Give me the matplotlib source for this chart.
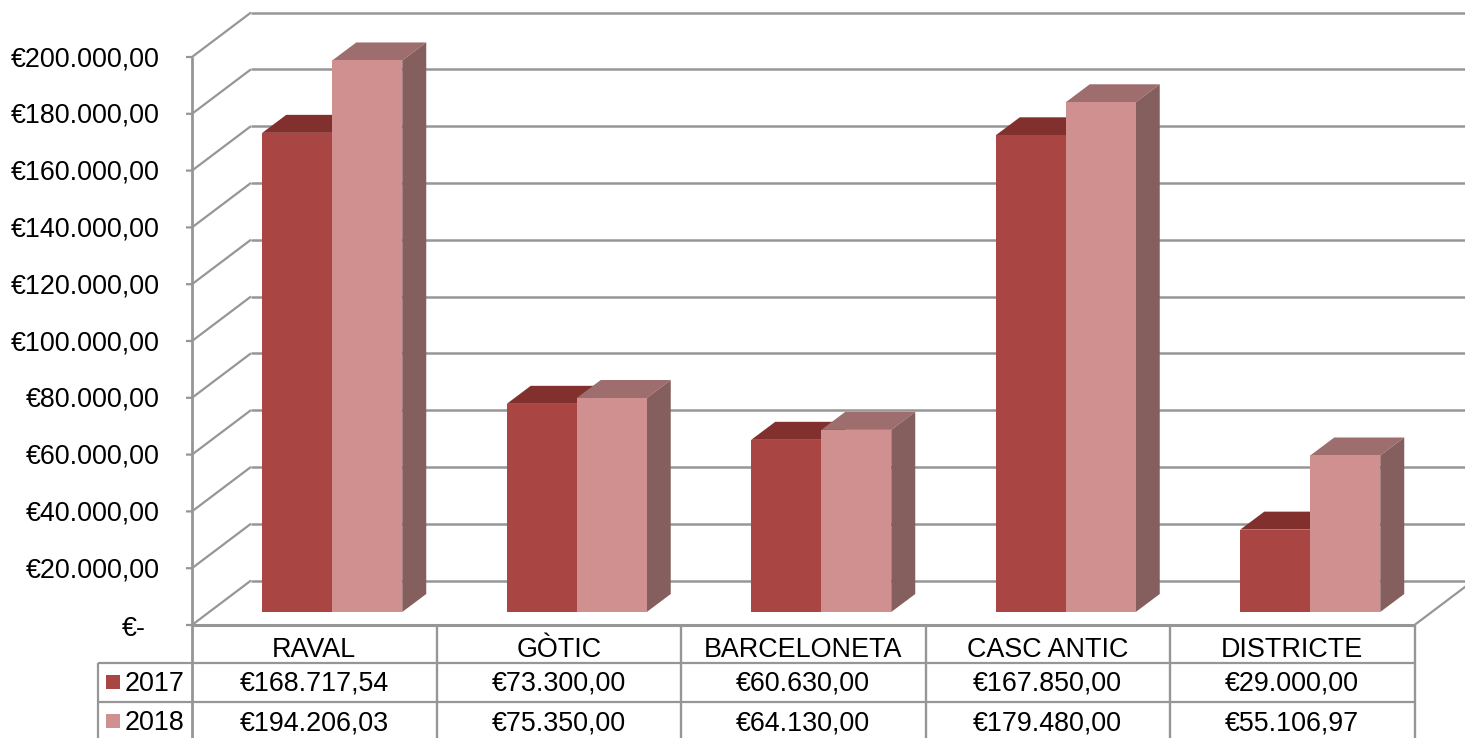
import matplotlib
matplotlib.use("Agg")
import matplotlib.pyplot as plt
from matplotlib.patches import Polygon, Rectangle

plt.rcParams['font.family'] = ['Liberation Sans', 'DejaVu Sans']

categories = ['RAVAL', 'GÒTIC', 'BARCELONETA', 'CASC ANTIC', 'DISTRICTE']
years = ['2017', '2018']
values_2017 = [168717.54, 73300.00, 60630.00, 167850.00, 29000.00]
values_2018 = [194206.03, 75350.00, 64130.00, 179480.00, 55106.97]
yticks = [0, 20000, 40000, 60000, 80000, 100000, 120000, 140000, 160000, 180000, 200000]
ytick_labels = ['€-', '€20.000,00', '€40.000,00', '€60.000,00', '€80.000,00', '€100.000,00',
                '€120.000,00', '€140.000,00', '€160.000,00', '€180.000,00', '€200.000,00']

W, H = 1465, 738
X0, Y0 = 192, 625        # pixel position of the origin
CAT_W = 244.5            # pixels per category
PX_PER_VAL = 56.8 / 20000

GREY = '#969696'
FACE = ['#A94542', '#D09090']
TOP = ['#82302E', '#9E6E6E']
SIDE = ['#6E2A28', '#855E5E']
FS = 19.4
TXT_DOWN = 2             # text sits a little below the line centre

fig = plt.figure(figsize=(W / 100, H / 100), dpi=100)
ax = fig.add_axes([0, 0, 1, 1])
ax.set_xlim(-X0 / CAT_W, (W - X0) / CAT_W)
ax.set_ylim((Y0 - H) / PX_PER_VAL, Y0 / PX_PER_VAL)
ax.axis('off')

# offsets, all in pixels
dx = 1 / CAT_W
dy = 1 / PX_PER_VAL
WALL_X, WALL_Y = 59 * dx, 44.5 * dy      # back wall
FRONT_X, FRONT_Y = 18 * dx, 13 * dy      # front plane of the bars
DEPTH_X, DEPTH_Y = 24 * dx, 18 * dy      # bar depth
BAR_W = 70 * dx
xmax = len(categories)
xend = (W - X0) / CAT_W


def line(xs, ys, lw=1.6, z=1):
    ax.plot(xs, ys, color=GREY, lw=lw, solid_capstyle='butt', zorder=z)


# walls
for v in yticks:
    line([-6 * dx, 0, WALL_X], [v, v, v + WALL_Y])
    line([WALL_X, xend], [v + WALL_Y, v + WALL_Y], lw=1.8)
line([xmax, xmax + WALL_X], [0, WALL_Y])

# bars
for i in range(len(categories)):
    left = i + 0.5 - BAR_W + FRONT_X
    for j, v in enumerate([values_2017[i], values_2018[i]]):
        x = left + j * BAR_W
        base = FRONT_Y
        top = base + v
        z = 3 + j
        ax.add_patch(Polygon([(x, top), (x + DEPTH_X, top + DEPTH_Y),
                              (x + BAR_W + DEPTH_X, top + DEPTH_Y), (x + BAR_W, top)],
                             facecolor=TOP[j], edgecolor='none', zorder=z))
        ax.add_patch(Polygon([(x + BAR_W, base), (x + BAR_W + DEPTH_X, base + DEPTH_Y),
                              (x + BAR_W + DEPTH_X, top + DEPTH_Y), (x + BAR_W, top)],
                             facecolor=SIDE[j], edgecolor='none', zorder=z))
        ax.bar(x, v, width=BAR_W, bottom=base, align='edge', color=FACE[j], zorder=z + 0.5)

# y labels
for v, lab in zip(yticks, ytick_labels):
    if v == 0:
        ax.text(-58 * dx, v - (2 + TXT_DOWN) * dy, lab, ha='center', va='center', fontsize=FS, color='black')
    else:
        ax.text(-32 * dx, v - TXT_DOWN * dy, lab, ha='right', va='center', fontsize=FS, color='black')

# data table
row1, row2 = -38 * dy, -77 * dy
bottom = (Y0 - H) * dy
left_edge = -94 * dx
line([0, xmax], [0, 0], lw=2.2, z=2)
line([0, 0], [200000, bottom], lw=2.0, z=2)
for i in range(1, xmax + 1):
    line([i, i], [0, bottom], lw=1.7)
line([left_edge, xmax], [row1, row1])
line([left_edge, xmax], [row2, row2])
line([left_edge, left_edge], [row1, bottom])

for i, name in enumerate(categories):
    ax.text(i + 0.5, (-23 - TXT_DOWN) * dy, name, ha='center', va='center', fontsize=FS, color='black')


def money(v):
    s = f'{v:,.2f}'.replace(',', 'X').replace('.', ',').replace('X', '.')
    return '€' + s


for row, (yr, vals, ypx) in enumerate(zip(years, [values_2017, values_2018], [-57, -96])):
    ax.add_patch(Rectangle((-86 * dx, (ypx - 7) * dy), 14 * dx, 14 * dy, facecolor=FACE[row], edgecolor='none'))
    ax.text(-67 * dx, (ypx - TXT_DOWN) * dy, yr, ha='left', va='center', fontsize=FS, color='black')
    for i, v in enumerate(vals):
        ax.text(i + 0.5, (ypx - TXT_DOWN) * dy, money(v), ha='center', va='center', fontsize=FS, color='black')

fig.savefig('out.png', dpi=100)
